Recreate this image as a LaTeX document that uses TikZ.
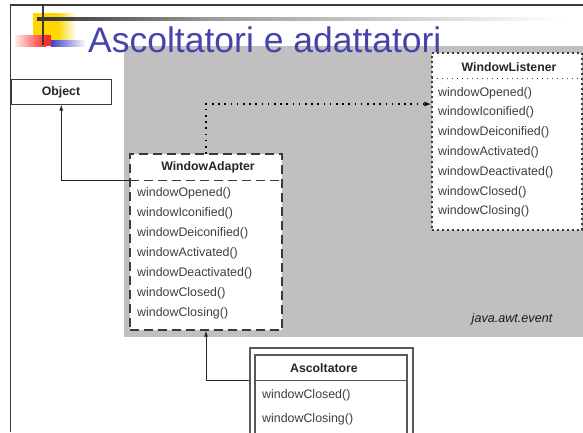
\documentclass[tikz,border=0pt]{standalone}
\usepackage{fontspec}
\setmainfont{Liberation Sans}
\usetikzlibrary{arrows.meta,fit,calc}
\definecolor{titleblue}{RGB}{68,68,170}
\definecolor{pkggray}{RGB}{192,192,192}
\definecolor{edge}{RGB}{58,58,58}
\definecolor{ink}{RGB}{62,62,62}
\definecolor{barblue}{RGB}{64,64,204}
\definecolor{barred}{RGB}{255,40,40}
\definecolor{baryellow}{RGB}{255,215,0}

\begin{document}
\begin{tikzpicture}[x=1pt,y=-1pt,
  box/.style={inner sep=0pt, fill=white, draw=edge},
  region/.style={inner sep=0pt},
  solidbox/.style={box, line width=1pt},
  adapterbox/.style={box, line width=1.3pt, dash pattern=on 9pt off 5pt},
  listenerbox/.style={box, line width=1.4pt, dash pattern=on 1.6pt off 3.4pt},
  classname/.style={font=\fontsize{12.3}{14}\selectfont\bfseries, text=black!85, inner sep=0pt},
  method/.style={anchor=west, inner sep=0pt, font=\fontsize{12.4}{14}\selectfont, text=ink, text height=9pt, text depth=3pt},
  inherit/.style={draw=black!85, line width=0.9pt, -{Latex[length=6pt,width=4pt]}},
  realize/.style={draw=black, line width=1.6pt, dash pattern=on 1.6pt off 4.6pt, -{Latex[length=7pt,width=5pt]}}
]
\useasboundingbox (0,0) rectangle (583,432);
\clip (0,0) rectangle (583,432);

% slide ornaments
\fill[baryellow] (33,13) rectangle (58,40);
\shade[left color=baryellow, right color=white] (58,13) rectangle (76,40);
\shade[left color=red!8, right color=barred] (15,35) rectangle (46,46);
\fill[barred] (46,35) rectangle (51,46);
\shade[left color=barblue, right color=white] (51,40) rectangle (86,46);
\shade[left color=black!80, right color=black!42] (37,17.5) rectangle (200,20.5);
\shade[left color=black!40, right color=white] (200,17.5) rectangle (565,20.5);
\draw[edge, line width=2.5pt] (43,5) -- (43,45);

% slide frame
\draw[edge, line width=1.5pt] (10.5,432) -- (10.5,5) -- (583,5);

% package area
\fill[pkggray] (124,46) rectangle (583,337);

% title
\node[anchor=base west, inner sep=0pt, font=\fontsize{35.5}{40}\selectfont, text=titleblue] (title) at (88,52) {Ascoltatori e adattatori};

% Object
\node[solidbox, fit={(11.5,79) (111,104)}] (obj) {};
\node[classname] (objname) at (61,92) {Object};

% WindowListener
\node[listenerbox, fit={(432,53) (582,230)}] (wlbox) {};
\node[region, fit={(432,53) (582,78)}] (wlhead) {};
\draw[edge, line width=1.4pt, dash pattern=on 1.6pt off 3.4pt] (wlhead.south west) -- (wlhead.south east);
\node[classname] (wlname) at (509,67) {WindowListener};
\node[method] (wl1) at (438,93) {windowOpened()};
\node[method] (wl2) at (438,112.8) {windowIconified()};
\node[method] (wl3) at (438,132.6) {windowDeiconified()};
\node[method] (wl4) at (438,152.4) {windowActivated()};
\node[method] (wl5) at (438,172.2) {windowDeactivated()};
\node[method] (wl6) at (438,192) {windowClosed()};
\node[method] (wl7) at (438,211.8) {windowClosing()};

% WindowAdapter
\node[adapterbox, fit={(130,154) (282,330)}] (wabox) {};
\node[region, fit={(130,154) (282,180)}] (wahead) {};
\draw[edge, line width=1.3pt, dash pattern=on 9pt off 5pt] (wahead.south west) -- (wahead.south east);
\node[classname] (waname) at (208,167) {WindowAdapter};
\node[method] (wa1) at (137,193) {windowOpened()};
\node[method] (wa2) at (137,213) {windowIconified()};
\node[method] (wa3) at (137,233) {windowDeiconified()};
\node[method] (wa4) at (137,253) {windowActivated()};
\node[method] (wa5) at (137,273) {windowDeactivated()};
\node[method] (wa6) at (137,293) {windowClosed()};
\node[method] (wa7) at (137,313) {windowClosing()};

% package label
\node[inner sep=0pt, font=\fontsize{12.6}{14}\selectfont\itshape, text=black!90] (pkg) at (512,319) {java.awt.event};

% Ascoltatore
\node[box, line width=1.1pt, draw=black!65, fit={(250,348) (413,450)}] (ascout) {};
\node[box, line width=1.1pt, draw=black!65, fit={(255,355) (407,450)}] (ascin) {};
\node[region, fit={(255,355) (407,380)}] (aschead) {};
\draw[black!65, line width=1.1pt] (aschead.south west) -- (aschead.south east);
\node[classname] (ascname) at (324,368) {Ascoltatore};
\node[method] (as1) at (262,395) {windowClosed()};
\node[method] (as2) at (262,419) {windowClosing()};

% connectors
\draw[inherit] (wahead.south west) -| (obj.south);
\draw[realize] (wahead.north) |- (wlbox.west |- 0,104);
\draw[inherit] (aschead.south west -| ascout.west) -| (wabox.south);
\end{tikzpicture}
\end{document}
